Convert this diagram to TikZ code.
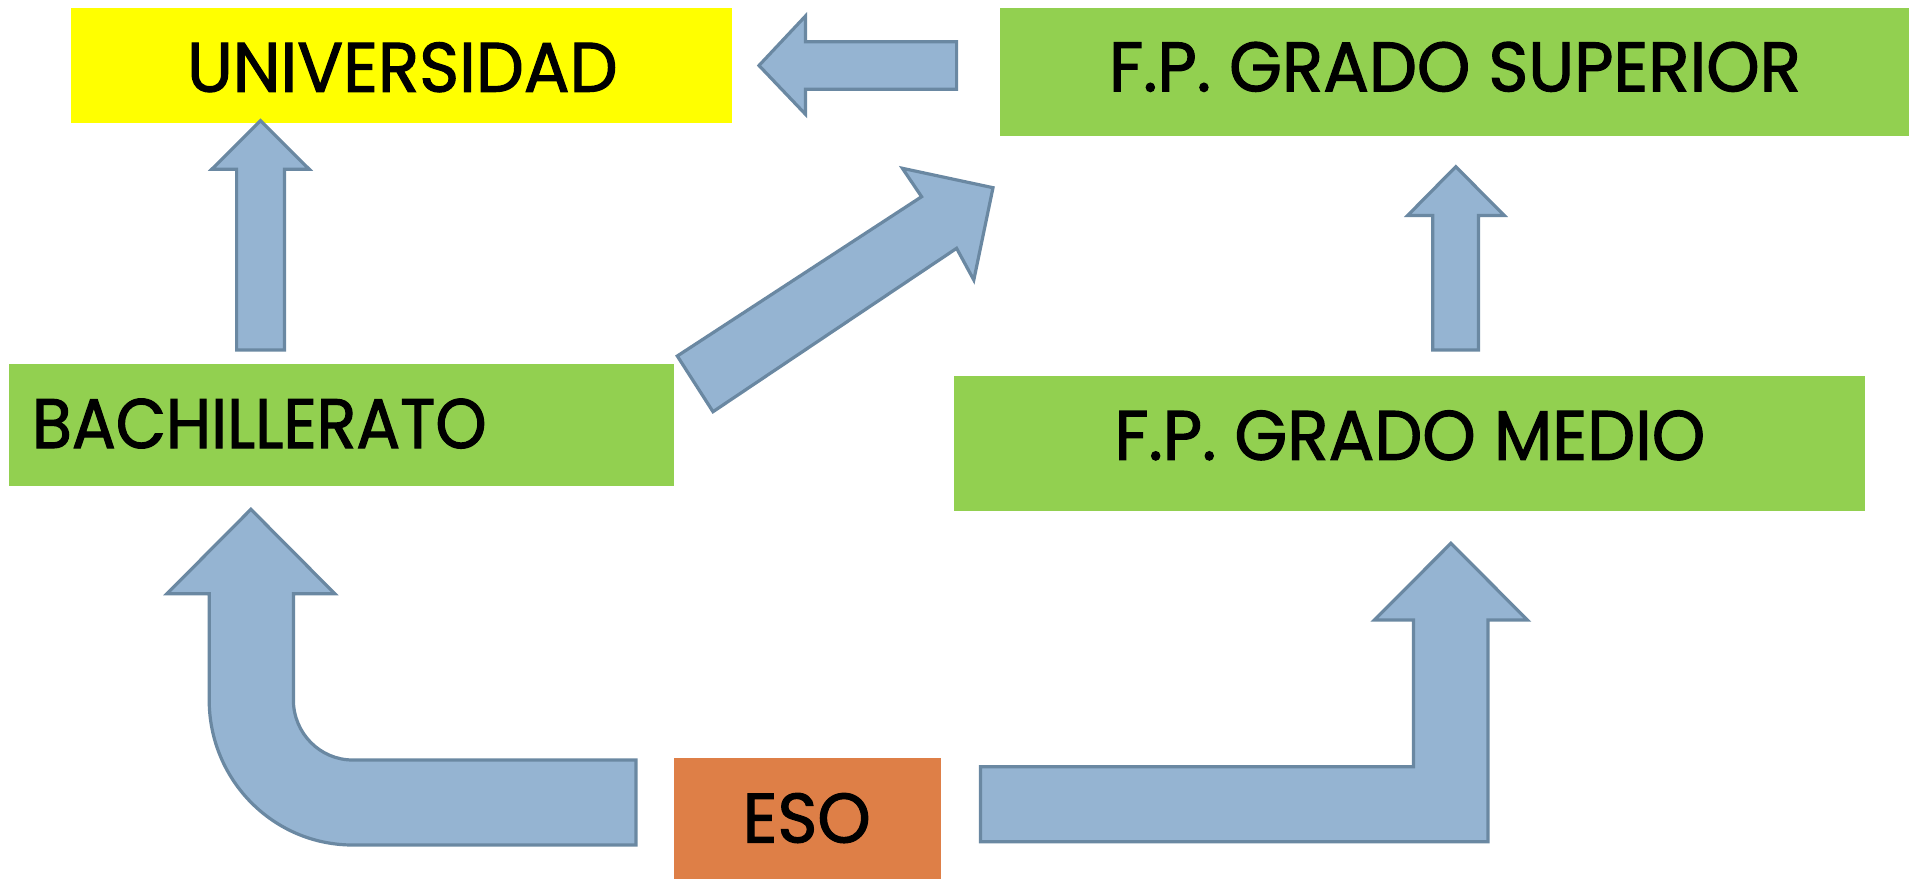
\documentclass[tikz,border=0pt]{standalone}
\usepackage{fontspec}
\newfontfamily\gfont[FakeStretch=0.97,FakeBold=1.6]{Poppins}
\newfontfamily\gfontn[FakeStretch=0.93,FakeBold=1.6]{Poppins}
\definecolor{univyellow}{HTML}{FFFF00}
\definecolor{boxgreen}{HTML}{92D050}
\definecolor{esoorange}{HTML}{DE7F47}
\definecolor{arrowfill}{HTML}{95B4D2}
\definecolor{arrowline}{HTML}{6A88A2}
\begin{document}
\begin{tikzpicture}[x=1pt,y=-1pt,
  box/.style={draw=none, inner sep=0pt, outer sep=0pt, anchor=north west},
  lbl/.style={font=\gfont\fontsize{70}{70}\selectfont, inner sep=0pt, outer sep=0pt, anchor=base, text=black},
  barrow/.style={fill=arrowfill, draw=arrowline, line width=3.2pt, line join=miter}]
\useasboundingbox (0,0) rectangle (1909,879);
% boxes
\node[box, fill=univyellow, minimum width=660.7pt, minimum height=115pt] (univ) at (70.8,8) {};
\node[box, fill=boxgreen, minimum width=909.3pt, minimum height=127.5pt] (sup) at (999.7,8.1) {};
\node[box, fill=boxgreen, minimum width=665pt, minimum height=122pt] (bach) at (9,364) {};
\node[box, fill=boxgreen, minimum width=911pt, minimum height=134.7pt] (medio) at (954,376) {};
\node[box, fill=esoorange, minimum width=266.7pt, minimum height=121.3pt] (eso) at (674,757.7) {};
% labels
\node[lbl] (univt) at (402.3,91.7) {UNIVERSIDAD};
\node[lbl] (supt) at (1455,91.3) {F.P. GRADO SUPERIOR};
\node[lbl, anchor=base west, font=\gfontn\fontsize{70}{70}\selectfont] (bacht) at (32,448) {BACHILLERATO};
\node[lbl] (mediot) at (1409.8,459.8) {F.P. GRADO MEDIO};
\node[lbl] (esot) at (806.7,842.5) {ESO};
% block arrows
\draw[barrow] (956.6,41.7) -- (805.5,41.7) -- (805.5,16) -- (759,65.5) -- (805.5,114.3) -- (805.5,89.3) -- (956.6,89.3) -- cycle;
\draw[barrow] (236.6,350) -- (236.6,169.3) -- (211.7,169.3) -- (260.5,120.7) -- (309.3,169.3) -- (284.4,169.3) -- (284.4,350) -- cycle;
\draw[barrow] (1432.8,350) -- (1432.8,215.4) -- (1407.7,215.4) -- (1455.8,166.7) -- (1504.2,215.4) -- (1478.5,215.4) -- (1478.5,350) -- cycle;
\draw[barrow] (677.3,356) -- (921.6,196.7) -- (902.4,168.3) -- (993,187.7) -- (973.8,280) -- (956.6,248.3) -- (713,411.7) -- cycle;
\draw[barrow] (636,760) -- (352.7,760) .. controls (319.95,760) and (293.4,733.1) .. (293.4,700) -- (293.4,593.7) -- (334.8,593.7) -- (250.9,509.3) -- (167,593.7) -- (209.2,593.7) -- (209.2,700) .. controls (209.2,780.1) and (273.4,845) .. (352.7,845) -- (636,845) -- cycle;
\draw[barrow] (980.4,766.7) -- (1413.5,766.7) -- (1413.5,620) -- (1374.3,620) -- (1450.9,543.3) -- (1527.4,620) -- (1488,620) -- (1488,841.7) -- (980.4,841.7) -- cycle;
\end{tikzpicture}
\end{document}
